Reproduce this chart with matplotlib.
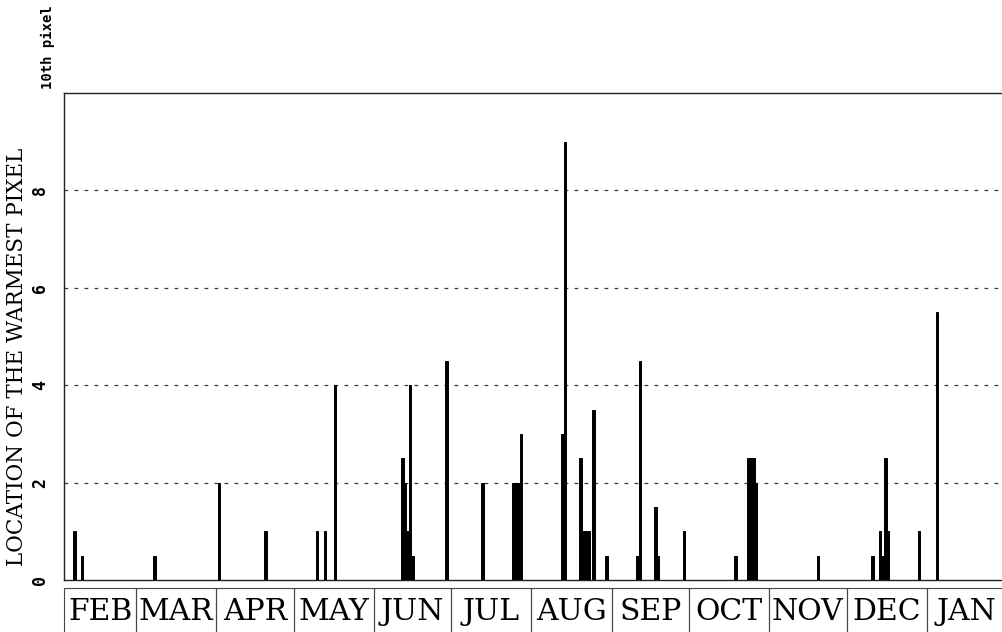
import numpy as np
import matplotlib
matplotlib.use("Agg")
import matplotlib.pyplot as plt
import matplotlib.transforms as mtransforms
from matplotlib.patches import Rectangle

# day index counted from 1 February; value = location of the warmest pixel (10th pixel)
days = [4, 7, 35, 60, 78, 98, 101, 105,
        131, 132, 133, 134, 135, 148, 162,
        174, 175, 176, 177, 193, 194,
        200, 201, 202, 203, 205, 210,
        222, 223, 229, 230, 240,
        260, 265, 266, 267, 268, 292,
        313, 316, 317, 318, 319, 331, 338]
values = [1, 0.5, 0.5, 2, 1, 1, 1, 4,
          2.5, 2, 1, 4, 0.5, 4.5, 2,
          2, 2, 2, 3, 3, 9,
          2.5, 1, 1, 1, 3.5, 0.5,
          0.5, 4.5, 1.5, 0.5, 1,
          0.5, 2.5, 2.5, 2.5, 2, 0.5,
          0.5, 1, 0.5, 2.5, 1, 1, 5.5]

months = ["FEB", "MAR", "APR", "MAY", "JUN", "JUL",
          "AUG", "SEP", "OCT", "NOV", "DEC", "JAN"]
month_len = [28, 31, 30, 31, 30, 31, 31, 30, 31, 30, 31, 31]
month_start = np.concatenate([[0], np.cumsum(month_len)[:-1]])

fig = plt.figure(figsize=(10.02, 6.32), dpi=100)
ax = fig.add_axes([64 / 1002, 1 - 580 / 632, 1 - 64 / 1002, (580 - 93) / 632])

ax.bar(days, values, width=1.0, color="black", edgecolor="black", linewidth=0.7,
       align="center", zorder=3)

ax.set_xlim(0, 363.2)
ax.set_ylim(0, 10)
ax.set_yticks([0, 2, 4, 6, 8])
ax.set_yticklabels(["0", "2", "4", "6", "8"], rotation=90, va="center",
                   family="DejaVu Sans Mono", fontweight="bold", fontsize=12)
ax.tick_params(axis="y", length=0, pad=11)
ax.set_xticks([])
for y in [2, 4, 6, 8]:
    ax.axhline(y, color="#3a3a3a", lw=0.9, ls=(0, (3, 5)), zorder=1)

ax.spines["right"].set_visible(False)
for s in ["left", "top", "bottom"]:
    ax.spines[s].set_linewidth(1.0)
    ax.spines[s].set_color("#222222")

# month boxes under the axis
trans = mtransforms.blended_transform_factory(ax.transData, ax.transAxes)
box_top = -8 / 487
box_h = 60 / 487
for name, start, n in zip(months, month_start, month_len):
    ax.add_patch(Rectangle((start, box_top - box_h), n, box_h, transform=trans,
                           fill=False, edgecolor="#444444", lw=0.8, clip_on=False))
    ax.text(start + n / 2, box_top - 24 / 487, name, transform=trans,
            ha="center", va="center", family="DejaVu Serif", fontsize=21.5)

fig.text(17 / 1002, 1 - 357 / 632, "LOCATION OF THE WARMEST PIXEL", rotation=90,
         ha="center", va="center", family="DejaVu Serif", fontsize=15.5)
fig.text(48 / 1002, 1 - 47 / 632, "10th pixel", rotation=90, ha="center", va="center",
         family="DejaVu Sans Mono", fontweight="bold", fontsize=10)

fig.savefig("out.png", dpi=100)
